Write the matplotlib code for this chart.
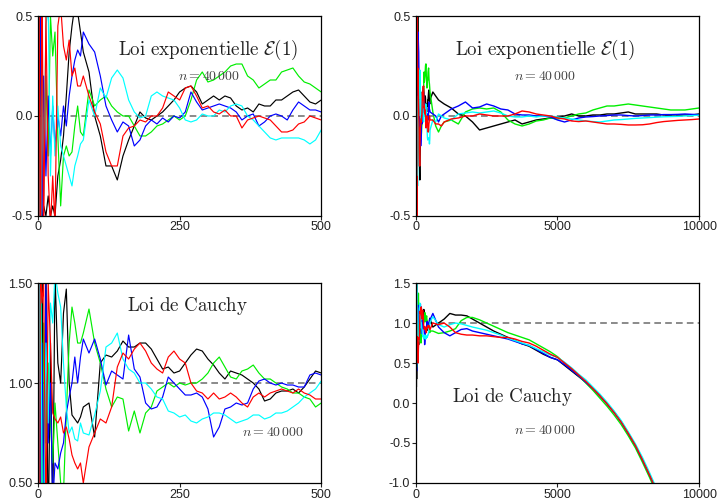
import matplotlib
matplotlib.use("Agg")
import matplotlib.pyplot as plt
from matplotlib.ticker import FormatStrFormatter

plt.rcParams['font.family'] = ['Liberation Sans', 'DejaVu Sans']
plt.rcParams['mathtext.fontset'] = 'cm'

# abscisses (n) communes aux deux graphes de gauche
x_court = [1, 4, 7, 10, 14, 18, 22, 26, 30, 35, 40, 45, 50, 55, 60, 65, 70, 75, 80] + list(range(90, 510, 10))
# suite des abscisses pour les graphes de droite
x_long_exp = [600, 700, 800, 900, 1000] + list(range(1250, 10250, 250))
x_long_cau = [600, 800, 1000, 1200, 1400, 1600, 1800, 2000] + list(range(2250, 9000, 250))

# loi exponentielle, n <= 500
exp_noir = [-1.0, 0.8, -0.6, -0.45, -0.5, -0.4, -0.5, -0.45, -0.5, -0.3, -0.22, -0.1, 0.1, 0.32, 0.45, 0.55, 0.52, 0.42, 0.32,
            0.22, 0.0, -0.1, -0.25, -0.25, -0.32, -0.2, -0.12, -0.05, 0.02, -0.01, -0.02, 0.0, 0.02, 0.05, 0.08, 0.12, 0.14, 0.15, 0.12, 0.06,
            0.08, 0.1, 0.08, 0.1, 0.09, 0.05, 0.03, 0.04, 0.02, 0.06, 0.05, 0.05, 0.08, 0.08, 0.1, 0.12, 0.13, 0.1, 0.07, 0.06, 0.08]
exp_vert = [1.5, -0.8, 0.4, -0.3, 0.2, -0.2, 0.5, 0.3, 0.42, -0.1, -0.45, -0.2, -0.15, -0.2, -0.18, -0.05, 0.05, -0.08, -0.1,
            0.13, 0.05, 0.08, 0.1, 0.05, 0.02, 0.0, 0.0, -0.05, -0.1, -0.1, -0.08, -0.05, -0.04, -0.02, 0.0, -0.02, 0.0, 0.08, 0.18, 0.22,
            0.17, 0.18, 0.2, 0.22, 0.25, 0.26, 0.26, 0.2, 0.18, 0.14, 0.16, 0.18, 0.18, 0.22, 0.23, 0.24, 0.2, 0.17, 0.16, 0.14, 0.12]
exp_bleu = [-0.9, 0.7, -0.5, 0.2, -0.3, 0.1, -0.2, 0.05, -0.15, 0.0, -0.1, 0.05, -0.05, 0.1, 0.2, 0.28, 0.33, 0.3, 0.42,
            0.36, 0.32, 0.2, 0.05, -0.02, -0.08, -0.03, -0.05, -0.15, -0.12, -0.05, -0.02, -0.04, -0.01, -0.03, 0.0, -0.01, 0.02, 0.12, 0.07, 0.03,
            0.04, 0.05, 0.06, 0.05, 0.04, 0.02, -0.02, 0.0, 0.01, -0.05, -0.03, 0.0, 0.01, 0.0, -0.02, 0.03, 0.07, 0.05, 0.03, 0.03, 0.02]
exp_rouge = [1.5, -1.0, 0.8, -0.6, 0.5, -0.3, -0.55, -0.3, -0.55, 0.45, 0.55, 0.35, 0.28, 0.38, 0.2, 0.24, 0.15, 0.15, 0.2,
             0.1, 0.02, -0.04, -0.18, -0.25, -0.25, -0.1, -0.06, -0.05, -0.02, -0.03, 0.0, 0.0, 0.04, 0.12, 0.1, 0.08, 0.14, 0.15, 0.1, 0.04,
             0.05, 0.02, 0.01, 0.03, 0.0, 0.0, -0.06, -0.02, -0.01, 0.0, -0.01, -0.02, -0.05, -0.08, -0.08, -0.07, -0.04, -0.03, 0.0, -0.01, -0.02]
exp_cyan = [0.6, -0.9, 0.3, -0.4, 0.45, 0.55, -0.3, 0.1, -0.2, 0.05, -0.15, -0.2, -0.25, -0.3, -0.35, -0.25, -0.2, -0.14, -0.12,
            0.08, 0.0, 0.14, 0.09, 0.19, 0.23, 0.19, 0.08, 0.02, -0.01, 0.0, 0.1, 0.12, 0.1, 0.09, 0.08, 0.04, -0.02, -0.03, -0.02, 0.01,
            0.0, 0.0, 0.03, 0.02, 0.05, 0.06, 0.05, 0.0, -0.02, -0.05, -0.08, -0.11, -0.12, -0.11, -0.11, -0.11, -0.11, -0.12, -0.14, -0.12, -0.07]

# loi exponentielle, n > 500
exp_noir_l = [0.12, 0.1, 0.08, 0.07, 0.06, 0.04, 0.01, 0.0, -0.03, -0.07, -0.06, -0.05, -0.04, -0.03, -0.02, -0.04, -0.03, -0.02,
              -0.015, -0.01, -0.005, 0.0, 0.01, 0.0, 0.0, 0.005, 0.005, 0.01, 0.01, 0.015, 0.02, 0.01, 0.01, 0.01, 0.01, 0.005,
              0.005, 0.005, 0.005, 0.005, 0.01]
exp_vert_l = [0.02, -0.05, -0.08, -0.05, -0.03, -0.02, -0.04, 0.02, 0.035, 0.04, 0.035, 0.04, 0.02, -0.02, -0.04, -0.05, -0.04, -0.025,
              -0.02, -0.01, -0.015, -0.01, 0.0, 0.01, 0.015, 0.03, 0.04, 0.05, 0.05, 0.055, 0.06, 0.055, 0.05, 0.045, 0.04, 0.035,
              0.03, 0.03, 0.03, 0.035, 0.04]
exp_bleu_l = [0.01, 0.0, -0.03, 0.0, 0.01, 0.035, 0.05, 0.07, 0.04, 0.045, 0.06, 0.05, 0.035, 0.03, 0.01, 0.005, 0.005, 0.0,
              0.0, -0.005, -0.02, -0.03, -0.02, -0.01, -0.005, -0.003, 0.0, 0.002, 0.005, 0.005, 0.002, 0.0, 0.002, 0.005, 0.005, 0.007,
              0.007, 0.008, 0.01, 0.008, 0.007]
exp_rouge_l = [-0.02, -0.04, -0.04, -0.05, -0.03, -0.015, -0.01, 0.0, 0.0, 0.01, 0.005, 0.0, 0.0, 0.0, 0.01, 0.025, 0.02, 0.01,
               0.005, 0.0, -0.01, -0.015, -0.025, -0.028, -0.025, -0.03, -0.035, -0.04, -0.04, -0.042, -0.045, -0.045, -0.044, -0.04, -0.033, -0.028,
               -0.025, -0.022, -0.02, -0.018, -0.015]
exp_cyan_l = [-0.02, -0.03, 0.01, 0.0, -0.01, -0.02, 0.01, 0.015, 0.02, 0.015, 0.02, 0.025, 0.015, 0.0, -0.005, -0.005, 0.0, -0.005,
              0.0, 0.0, -0.005, -0.01, -0.015, -0.02, -0.025, -0.028, -0.03, -0.025, -0.02, -0.018, -0.015, -0.012, -0.01, -0.008, -0.006, -0.004,
              -0.003, -0.002, 0.0, 0.002, 0.004]

# loi de Cauchy, n <= 500
cau_noir = [-2.0, 0.0, 1.8, 0.3, 1.6, 0.2, 1.2, 0.3, 1.55, 1.1, 1.0, 1.35, 1.47, 1.0, 0.84, 0.82, 0.8, 0.83, 0.88,
            0.9, 0.73, 1.1, 1.14, 1.13, 1.16, 1.21, 1.18, 1.18, 1.2, 1.2, 1.17, 1.12, 1.07, 1.08, 1.05, 1.06, 1.1, 1.14, 1.17, 1.16,
            1.12, 1.09, 1.05, 1.02, 1.06, 1.05, 1.04, 1.02, 1.0, 0.97, 0.91, 0.92, 0.95, 0.96, 0.96, 0.97, 0.95, 0.98, 1.02, 1.06, 1.05]
cau_vert = [0.0, 2.0, 0.4, 1.3, 0.7, 1.1, 0.8, 0.6, 0.9, 0.7, 0.5, 0.45, 0.85, 1.2, 1.38, 1.3, 1.2, 1.2, 1.25,
            1.37, 1.2, 1.1, 0.97, 0.88, 0.93, 0.92, 0.76, 0.86, 0.75, 0.85, 0.88, 0.96, 0.98, 1.0, 0.98, 1.0, 0.99, 1.0, 1.0, 1.02,
            1.05, 1.1, 1.13, 1.08, 1.03, 1.02, 1.06, 1.07, 1.09, 1.05, 1.02, 1.02, 1.0, 0.98, 0.97, 0.95, 0.95, 0.93, 0.92, 0.88, 0.9]
cau_bleu = [2.0, 0.3, 1.2, 0.4, 1.5, 0.7, 1.0, 0.4, 0.6, 0.57, 0.65, 0.7, 0.85, 0.93, 1.0, 1.13, 1.0, 1.13, 1.22,
            1.15, 1.22, 1.12, 0.99, 1.06, 1.04, 1.02, 1.24, 1.07, 1.03, 0.9, 0.87, 0.88, 0.93, 1.03, 1.0, 0.97, 0.94, 0.94, 0.95, 0.93,
            0.87, 0.73, 0.78, 0.87, 0.88, 0.9, 0.89, 0.9, 0.97, 1.01, 1.02, 1.0, 0.99, 1.0, 0.99, 0.99, 0.98, 0.98, 1.04, 1.05, 1.04]
cau_rouge = [-3.0, 1.6, 1.4, 1.5, 0.3, 1.5, 1.2, 0.85, 0.82, 0.8, 0.83, 0.75, 0.78, 0.72, 0.64, 0.6, 0.57, 0.6, 0.5,
             0.68, 0.75, 0.82, 0.8, 0.88, 1.08, 1.15, 1.12, 1.17, 1.2, 1.16, 1.1, 1.07, 1.05, 1.13, 1.16, 1.12, 1.1, 1.0, 0.96, 0.95,
             0.92, 0.95, 0.92, 0.93, 0.95, 0.93, 0.9, 0.88, 0.93, 0.95, 0.93, 0.95, 0.96, 0.97, 0.96, 0.95, 0.97, 0.95, 0.94, 0.92, 0.92]
cau_cyan = [0.2, 2.0, 0.5, 0.3, 1.2, 0.8, 1.4, 1.3, 1.55, 1.45, 1.38, 1.1, 0.88, 0.75, 0.78, 0.72, 0.71, 0.8, 0.75,
            0.74, 0.84, 0.96, 1.18, 1.2, 1.25, 1.12, 1.07, 1.05, 1.0, 1.0, 0.97, 0.93, 0.92, 0.86, 0.85, 0.83, 0.84, 0.81, 0.8, 0.82,
            0.83, 0.85, 0.85, 0.84, 0.82, 0.8, 0.81, 0.82, 0.84, 0.84, 0.82, 0.83, 0.85, 0.85, 0.86, 0.88, 0.9, 0.93, 0.95, 0.97, 1.01]

# loi de Cauchy, n > 500
cau_noir_l = [0.95, 1.0, 1.05, 1.12, 1.1, 1.1, 1.09, 1.05, 1.0, 0.95, 0.9, 0.86, 0.82, 0.78, 0.74, 0.71, 0.66, 0.61,
              0.57, 0.54, 0.47, 0.4, 0.33, 0.26, 0.18, 0.09, -0.01, -0.11, -0.23, -0.38, -0.53, -0.71, -0.9, -1.1, -1.32]
cau_vert_l = [0.9, 0.87, 0.88, 0.9, 0.93, 1.03, 1.07, 1.07, 1.04, 1.0, 0.96, 0.92, 0.88, 0.85, 0.82, 0.79, 0.74, 0.69,
              0.64, 0.58, 0.5, 0.42, 0.34, 0.25, 0.16, 0.06, -0.04, -0.15, -0.27, -0.41, -0.56, -0.74, -0.93, -1.13, -1.35]
cau_bleu_l = [1.12, 0.95, 0.88, 0.84, 0.88, 0.92, 0.93, 0.9, 0.88, 0.86, 0.84, 0.82, 0.8, 0.77, 0.74, 0.72, 0.67, 0.62,
              0.57, 0.54, 0.48, 0.41, 0.34, 0.26, 0.18, 0.09, -0.01, -0.12, -0.24, -0.38, -0.53, -0.71, -0.9, -1.1, -1.32]
cau_rouge_l = [1.0, 0.98, 1.0, 0.95, 0.88, 0.86, 0.85, 0.85, 0.84, 0.84, 0.83, 0.82, 0.82, 0.8, 0.77, 0.75, 0.71, 0.66,
               0.61, 0.57, 0.5, 0.43, 0.35, 0.27, 0.18, 0.09, -0.01, -0.12, -0.24, -0.38, -0.53, -0.71, -0.9, -1.1, -1.32]
cau_cyan_l = [1.08, 0.98, 0.95, 0.98, 1.0, 0.99, 0.97, 0.95, 0.93, 0.91, 0.88, 0.85, 0.81, 0.78, 0.75, 0.72, 0.68, 0.64,
              0.6, 0.57, 0.51, 0.44, 0.36, 0.29, 0.2, 0.11, 0.01, -0.1, -0.22, -0.36, -0.51, -0.68, -0.87, -1.07, -1.29]

couleurs = ['black', '#00ee00', '#0000ff', '#00ffff', '#ff0000']
exp_series = [exp_noir, exp_vert, exp_bleu, exp_cyan, exp_rouge]
exp_series_l = [exp_noir_l, exp_vert_l, exp_bleu_l, exp_cyan_l, exp_rouge_l]
cau_series = [cau_noir, cau_vert, cau_bleu, cau_cyan, cau_rouge]
cau_series_l = [cau_noir_l, cau_vert_l, cau_bleu_l, cau_cyan_l, cau_rouge_l]

titre_exp = r'$\mathrm{Loi\ exponentielle}\ \mathcal{E}(1)$'
titre_cau = r'$\mathrm{Loi\ de\ Cauchy}$'
texte_n = r'$n = 40\,000$'

fig = plt.figure(figsize=(7.17, 5.01), dpi=100)
ax1 = fig.add_axes([0.053, 0.569, 0.395, 0.399])
ax2 = fig.add_axes([0.580, 0.569, 0.395, 0.399])
ax3 = fig.add_axes([0.053, 0.036, 0.395, 0.399])
ax4 = fig.add_axes([0.580, 0.036, 0.395, 0.399])

for ys, c in zip(exp_series, couleurs):
    ax1.plot(x_court, ys, color=c, lw=0.85)
for ys, yl, c in zip(exp_series, exp_series_l, couleurs):
    ax2.plot(x_court + x_long_exp, ys + yl, color=c, lw=1.0)
for ys, c in zip(cau_series, couleurs):
    ax3.plot(x_court, ys, color=c, lw=0.85)
for ys, yl, c in zip(cau_series, cau_series_l, couleurs):
    ax4.plot(x_court + x_long_cau, ys + yl, color=c, lw=1.0)

for ax in [ax1, ax2]:
    ax.axhline(0, color='#777777', ls=(0, (4, 2.5)), lw=1.2, zorder=0.5)
    ax.set_ylim(-0.5, 0.5)
    ax.set_yticks([-0.5, 0.0, 0.5])
    ax.yaxis.set_major_formatter(FormatStrFormatter('%.1f'))
for ax in [ax3, ax4]:
    ax.axhline(1, color='#777777', ls=(0, (4, 2.5)), lw=1.2, zorder=0.5)
ax3.set_ylim(0.5, 1.5)
ax3.set_yticks([0.5, 1.0, 1.5])
ax3.yaxis.set_major_formatter(FormatStrFormatter('%.2f'))
ax4.set_ylim(-1.0, 1.5)
ax4.set_yticks([-1.0, -0.5, 0.0, 0.5, 1.0, 1.5])
ax4.yaxis.set_major_formatter(FormatStrFormatter('%.1f'))

for ax in [ax1, ax3]:
    ax.set_xlim(0, 500)
    ax.set_xticks([0, 250, 500])
for ax in [ax2, ax4]:
    ax.set_xlim(0, 10000)
    ax.set_xticks([0, 5000, 10000])

for ax in [ax1, ax2, ax3, ax4]:
    ax.tick_params(direction='out', length=3, width=0.8, pad=1, labelsize=9, colors='#222222')
    for s in ax.spines.values():
        s.set_linewidth(0.9)

ax1.text(0.60, 0.83, titre_exp, transform=ax1.transAxes, ha='center', va='center', fontsize=13.7, color='#222222')
ax1.text(0.605, 0.70, texte_n, transform=ax1.transAxes, ha='center', va='center', fontsize=10, color='#444444')
ax2.text(0.456, 0.83, titre_exp, transform=ax2.transAxes, ha='center', va='center', fontsize=13.7, color='#222222')
ax2.text(0.456, 0.70, texte_n, transform=ax2.transAxes, ha='center', va='center', fontsize=10, color='#444444')
ax3.text(0.527, 0.885, titre_cau, transform=ax3.transAxes, ha='center', va='center', fontsize=13.7, color='#222222')
ax3.text(0.83, 0.255, texte_n, transform=ax3.transAxes, ha='center', va='center', fontsize=10, color='#444444')
ax4.text(0.343, 0.43, titre_cau, transform=ax4.transAxes, ha='center', va='center', fontsize=13.7, color='#222222')
ax4.text(0.456, 0.265, texte_n, transform=ax4.transAxes, ha='center', va='center', fontsize=10, color='#444444')

fig.savefig('out.png', dpi=100)
